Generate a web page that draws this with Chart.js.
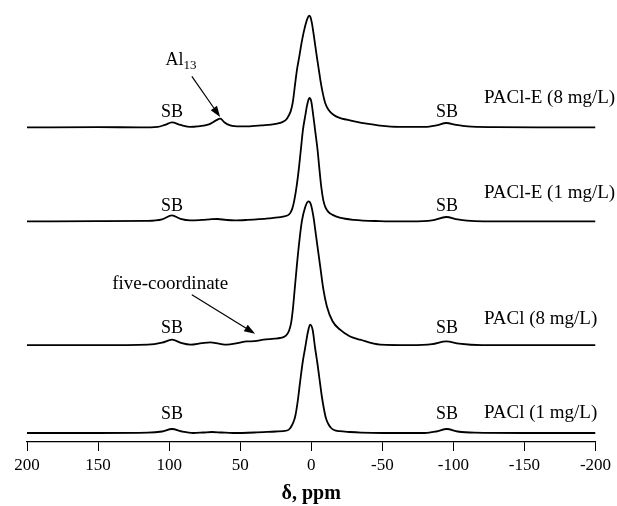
<!DOCTYPE html>
<html lang="en">
<head>
<meta charset="UTF-8">
<title>27Al NMR spectra</title>
<script src="https://cdn.jsdelivr.net/npm/chart.js"></script>
<style>
    html, body { margin: 0; padding: 0; background: #fff; }
</style>
</head>
<body>
<canvas id="nmrChart" width="617" height="506"></canvas>
<script>
// Spectra: chemical shift (ppm) and intensity above each baseline
const sampleNames = ['PACl-E (8 mg/L)', 'PACl-E (1 mg/L)', 'PACl (8 mg/L)', 'PACl (1 mg/L)'];
const baselines = [314.6, 220.6, 96.8, 9];

const ppmE8 = [200,150,120,108,103,98,92,85,80,72,67,64,61,57,50,45,35,25,20,17,14.5,13,11.3,10,8.4,7,5.5,4,2.5,1.5,0.5,-0.5,-1.5,-3,-3.9,-5.5,-6.8,-8.3,-9.8,-12,-15.6,-20,-25,-32,-39,-48.5,-62,-80,-88,-95,-102,-110,-130,-160,-200];
const intE8 = [0,0.3,0,0.5,2.5,5,2.5,0.5,1,3,7,8.7,5,2,1,1,2,3.5,5.5,9,16,25,44,58,71,83,94,103,109.5,111.7,110,104,95,80,71,56,44,33,24.4,18,12.7,9.5,7.7,5.5,3.7,1.7,0.5,0.5,2,4.4,2.5,1,0.3,0,0];

const ppmE1 = [200,150,115,105,98,92,85,77,70,66,60,54,45,30,20,16,14.5,13.3,12.3,11.3,10.1,8.7,7.3,5.8,4.3,2.8,1.3,0,-1.5,-3,-4.4,-5.7,-7,-8.5,-10,-12,-15,-20,-30,-48,-70,-85,-95,-103,-115,-150,-200];
const intE1 = [0,0.3,0.5,2,6,2.5,1,1.5,2.2,2.4,1.5,1,1.5,3,4.7,6.5,9,13,18.5,26,37,53,72,92,105,117,123.4,120,105,88,72,53,35,21,14,9.5,6.5,3.7,1.5,0.3,0,1,4.4,2,0.3,0,0];

const ppmP8 = [200,150,115,105,98,91,85,77,71,65,59.4,52,45.3,40,33.6,26,21.9,19,17,15.5,14.2,13,11.7,10.1,8.3,6.6,4.5,2,0.3,-1.5,-3.5,-6.3,-8.5,-11,-15,-20.3,-27,-34.4,-48.5,-70,-85,-95,-104,-120,-200];
const intP8 = [0,0,0.5,2.5,5.5,2,0.5,2,2.8,1.5,0.5,2,3.8,4,5.5,6.5,7.2,8.5,11,15,22,35,55,80,105,124,137,143.8,141,128.8,108,78.8,56,38.8,24,15.5,9,5.5,0.5,0,1,3.8,1.5,0,0];

const ppmP1 = [200,150,115,105,98,91,83,76,70,63,55,40,25,17,15,13.5,12,11,9.5,7.8,6,4.3,2.5,0.8,-1,-2.7,-4.3,-5.8,-7.3,-8.8,-10.3,-12,-14,-16,-20,-27,-35,-50,-80,-88,-95.4,-103,-115,-150,-200];
const intP1 = [0,0,0.3,1.5,4,1.5,0,0.5,1,0.5,0,0.5,1.5,2.5,4.5,8,13,18.5,32,51.6,71,85,100,108.3,103,85,70,54,38,25,15,9,5,3,1.8,1,0.4,0,0,1.5,4,1.5,0.3,0,0];

const shiftTicks = [200, 150, 100, 50, 0, -50, -100, -150, -200];

const spectra = [[ppmE8, intE8], [ppmE1, intE1], [ppmP8, intP8], [ppmP1, intP1]];

const serif = '"Liberation Serif", "Times New Roman", serif';

// Labels placed in data units (ppm, intensity)
const notes = {
    sbPpm: [98, -95.5],
    sbRise: [15.5, 15.5, 17, 19],
    namePpm: -121.5,
    nameRise: [29, 28, 26, 20],
    al13: { text: [96.3, 381.3], from: [84, 365.6], to: [64.1, 325] },
    five: { text: [99.2, 158.3], from: [84, 147.3], to: [39.5, 108.3] }
};

function arrow(ctx, x1, y1, x2, y2) {
    const a = Math.atan2(y2 - y1, x2 - x1);
    const len = 11, half = 3.8;
    ctx.beginPath();
    ctx.moveTo(x1, y1);
    ctx.lineTo(x2 - len * Math.cos(a), y2 - len * Math.sin(a));
    ctx.stroke();
    ctx.beginPath();
    ctx.moveTo(x2, y2);
    ctx.lineTo(x2 - len * Math.cos(a) + half * Math.sin(a), y2 - len * Math.sin(a) - half * Math.cos(a));
    ctx.lineTo(x2 - len * Math.cos(a) - half * Math.sin(a), y2 - len * Math.sin(a) + half * Math.cos(a));
    ctx.closePath();
    ctx.fill();
}

const labelPlugin = {
    id: 'labels',
    afterDatasetsDraw(chart) {
        const ctx = chart.ctx;
        const xs = chart.scales.x, ys = chart.scales.y;
        const px = v => xs.getPixelForValue(v);
        const py = v => ys.getPixelForValue(v);
        ctx.save();
        ctx.fillStyle = '#000';
        ctx.strokeStyle = '#000';
        ctx.lineWidth = 1.2;
        ctx.textBaseline = 'middle';

        baselines.forEach((b, i) => {
            ctx.font = '18px ' + serif;
            ctx.textAlign = 'center';
            notes.sbPpm.forEach(p => ctx.fillText('SB', px(p), py(b + notes.sbRise[i])));
            ctx.font = '19px ' + serif;
            ctx.textAlign = 'left';
            ctx.fillText(sampleNames[i], px(notes.namePpm), py(b + notes.nameRise[i]));
        });

        // Al13 label with subscript
        ctx.font = '18px ' + serif;
        const ax = px(notes.al13.text[0]), ay = py(notes.al13.text[1]);
        ctx.textAlign = 'center';
        ctx.fillText('Al', ax, ay);
        const w = ctx.measureText('Al').width;
        ctx.font = '13px ' + serif;
        ctx.textAlign = 'left';
        ctx.fillText('13', ax + w / 2, ay + 5);
        arrow(ctx, px(notes.al13.from[0]), py(notes.al13.from[1]), px(notes.al13.to[0]), py(notes.al13.to[1]));

        ctx.font = '19px ' + serif;
        ctx.textAlign = 'center';
        ctx.fillText('five-coordinate', px(notes.five.text[0]), py(notes.five.text[1]));
        arrow(ctx, px(notes.five.from[0]), py(notes.five.from[1]), px(notes.five.to[0]), py(notes.five.to[1]));
        ctx.restore();
    }
};

const datasets = spectra.map(([ppm, inten], i) => ({
    label: sampleNames[i],
    data: ppm.map((p, k) => ({ x: p, y: inten[k] + baselines[i] })),
    borderColor: '#000',
    borderWidth: 1.8,
    pointRadius: 0,
    cubicInterpolationMode: 'monotone',
    fill: false
}));

new Chart(document.getElementById('nmrChart'), {
    type: 'line',
    data: { datasets: datasets },
    plugins: [labelPlugin],
    options: {
        responsive: false,
        animation: false,
        layout: { padding: { left: 27, right: 21.5, top: 10, bottom: 0 } },
        plugins: { legend: { display: false }, tooltip: { enabled: false } },
        scales: {
            x: {
                type: 'linear',
                min: -200,
                max: 200,
                reverse: true,
                afterFit: s => { s.height = 64; },
                afterBuildTicks: s => { s.ticks = shiftTicks.map(v => ({ value: v })); },
                ticks: { color: '#000', font: { family: serif, size: 17 }, padding: 4, maxRotation: 0, autoSkip: false },
                grid: { drawOnChartArea: false, drawTicks: true, tickLength: 9, color: '#000', lineWidth: 1 },
                border: { display: true, color: '#000', width: 1.2 },
                title: { display: true, text: 'δ, ppm', color: '#000', font: { family: serif, size: 20, weight: 'bold' }, padding: { top: 0, bottom: 0 } }
            },
            y: { display: false, min: 0, max: 432 }
        }
    }
});
</script>
</body>
</html>
